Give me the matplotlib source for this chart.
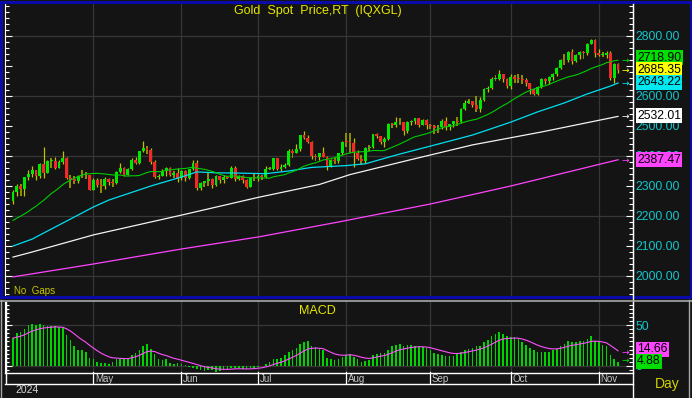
import matplotlib
matplotlib.use('Agg')
import matplotlib.pyplot as plt
import matplotlib.ticker as mticker
import matplotlib.transforms as mtrans
from matplotlib.lines import Line2D
from matplotlib.patches import Rectangle
import numpy as np
import pandas as pd

plt.rcParams['font.family'] = ['Liberation Sans', 'DejaVu Sans']

W, H = 692, 398
BG = '#141414'
GRID = '#363636'
AXCOL = '#12c6cc'

# trading days on the chart (Apr 2 .. Nov 8 2024)
dates = pd.bdate_range('2024-04-02', '2024-11-08')

# closes before the first candle, only needed for the 20-day average
prev_close = [2148, 2160, 2179, 2182, 2158, 2175, 2162, 2155, 2160, 2157,
              2186, 2181, 2165, 2172, 2178, 2194, 2230, 2233, 2250]

close_apr = [2280, 2300, 2291, 2329, 2339, 2352, 2333, 2373, 2344, 2383, 2383,
             2361, 2379, 2392, 2327, 2322, 2316, 2332, 2337, 2335, 2286]
high_apr = [2288, 2305, 2305, 2331, 2354, 2365, 2354, 2378, 2431, 2386, 2392,
            2395, 2385, 2418, 2395, 2335, 2334, 2338, 2352, 2348, 2337]
low_apr = [2240, 2268, 2268, 2268, 2320, 2329, 2319, 2325, 2326, 2342, 2359,
           2355, 2360, 2372, 2322, 2292, 2308, 2309, 2328, 2322, 2285]

close_may = [2320, 2303, 2301, 2324, 2314, 2309, 2346, 2360, 2336, 2358, 2386, 2376,
             2415, 2425, 2421, 2379, 2329, 2334, 2350, 2361, 2338, 2342, 2327]
high_may = [2326, 2326, 2323, 2331, 2326, 2323, 2351, 2378, 2362, 2361, 2392, 2396,
            2418, 2450, 2432, 2427, 2386, 2340, 2355, 2364, 2364, 2351, 2360]
low_may = [2285, 2295, 2277, 2291, 2303, 2297, 2305, 2343, 2332, 2335, 2354, 2373,
           2374, 2412, 2408, 2374, 2326, 2324, 2333, 2334, 2334, 2326, 2314]

close_jun = [2350, 2326, 2355, 2375, 2294, 2311, 2316, 2324, 2303, 2333,
             2319, 2329, 2328, 2360, 2322, 2334, 2319, 2298, 2327, 2326]
high_jun = [2354, 2352, 2358, 2388, 2387, 2313, 2318, 2342, 2327, 2336,
            2334, 2336, 2333, 2365, 2368, 2337, 2338, 2324, 2331, 2339]
low_jun = [2320, 2315, 2322, 2353, 2286, 2287, 2296, 2300, 2294, 2299,
           2310, 2309, 2323, 2327, 2316, 2320, 2309, 2293, 2296, 2318]

close_jul = [2332, 2330, 2356, 2357, 2392, 2358, 2364, 2371, 2415, 2411, 2422, 2469,
             2459, 2445, 2400, 2396, 2409, 2398, 2364, 2387, 2384, 2410, 2447]
high_jul = [2339, 2335, 2365, 2363, 2393, 2393, 2372, 2375, 2424, 2424, 2440, 2469,
            2484, 2470, 2449, 2408, 2411, 2431, 2399, 2390, 2393, 2411, 2451]
low_jul = [2318, 2319, 2327, 2352, 2353, 2353, 2351, 2359, 2366, 2392, 2410, 2416,
           2455, 2443, 2391, 2384, 2385, 2398, 2353, 2363, 2374, 2378, 2404]

close_aug = [2446, 2442, 2409, 2390, 2383, 2427, 2431, 2472, 2465, 2447, 2456,
             2507, 2504, 2514, 2512, 2484, 2512, 2517, 2525, 2504, 2521, 2503]
high_aug = [2477, 2477, 2461, 2420, 2402, 2429, 2438, 2474, 2475, 2468, 2463,
            2509, 2510, 2531, 2526, 2514, 2517, 2520, 2527, 2528, 2524, 2524]
low_aug = [2430, 2410, 2364, 2385, 2369, 2378, 2418, 2425, 2459, 2439, 2430,
           2454, 2492, 2496, 2502, 2470, 2477, 2504, 2508, 2495, 2502, 2491]

close_sep = [2500, 2493, 2495, 2516, 2497, 2506, 2516, 2512, 2557, 2578, 2582,
             2570, 2558, 2587, 2622, 2628, 2657, 2657, 2672, 2658, 2634]
high_sep = [2506, 2503, 2503, 2523, 2529, 2508, 2518, 2529, 2560, 2586, 2590,
            2584, 2600, 2595, 2626, 2634, 2664, 2670, 2685, 2674, 2659]
low_sep = [2489, 2472, 2476, 2489, 2486, 2486, 2496, 2500, 2510, 2554, 2572,
           2562, 2546, 2547, 2584, 2614, 2624, 2651, 2654, 2645, 2625]

close_oct = [2663, 2657, 2656, 2653, 2643, 2622, 2608, 2630, 2657, 2649, 2662, 2674,
             2693, 2721, 2719, 2748, 2715, 2736, 2747, 2743, 2774, 2788, 2744]
high_oct = [2673, 2670, 2672, 2670, 2661, 2644, 2627, 2634, 2661, 2659, 2665, 2676,
            2697, 2722, 2740, 2749, 2758, 2741, 2749, 2749, 2775, 2790, 2790]
low_oct = [2624, 2644, 2642, 2640, 2633, 2605, 2604, 2603, 2625, 2641, 2639, 2653,
           2668, 2691, 2704, 2714, 2708, 2713, 2724, 2722, 2735, 2772, 2730]

close_nov = [2736, 2736, 2743, 2659, 2707, 2685]
high_nov = [2758, 2746, 2750, 2749, 2711, 2710]
low_nov = [2733, 2731, 2726, 2652, 2643, 2678]

# moving averages (day index, value)
ma50_day = [0, 5, 21, 25, 36, 44, 48, 53, 59, 66, 72, 78, 87, 92, 100, 109,
            115, 120, 124, 130, 137, 144, 150, 156, 158]
ma50_val = [2100, 2123, 2230, 2253, 2300, 2330, 2347, 2344, 2343, 2341, 2350, 2362,
            2368, 2374, 2403, 2433, 2453, 2470, 2487, 2513, 2547, 2577, 2607, 2633, 2643.22]
ma100_day = [0, 5, 21, 44, 64, 80, 88, 103, 120, 138, 158]
ma100_val = [2063, 2080, 2137, 2203, 2262, 2305, 2338, 2385, 2437, 2480, 2532.01]
ma200_day = [0, 21, 44, 64, 85, 109, 130, 158]
ma200_val = [1997, 2040, 2090, 2130, 2180, 2240, 2300, 2387.47]

# MACD values (drawn as bars)
macd = [34, 40, 41, 45, 50, 51, 50, 51, 50, 49,
        49, 49, 47, 46, 38, 32, 25, 20, 19, 17,
        10, 9, 5, 4, 4, 3, 5, 8, 8, 8,
        9, 14, 16, 20, 24, 27, 21, 15, 8, 7,
        8, 4, 3, 4, 2, 1, -1, -2, -4, -5,
        -6, -5, -5, -7, -6, -5, -4, -3, -2, -3,
        -4, -4, -3, -2, -1, 0, 3, 5, 9, 9,
        10, 13, 17, 19, 22, 27, 29, 30, 25, 23,
        21, 19, 10, 8, 7, 9,
        11, 14, 15, 11, 8, 5, 6, 7, 13, 15,
        16, 16, 20, 24, 26, 27, 24, 26, 26, 25,
        25, 23, 22, 19, 16, 15, 13, 12, 12, 12,
        15, 17, 20, 21, 22, 24, 25, 29, 32, 36,
        39, 41, 39, 36, 35, 35, 33, 29, 26, 22,
        19, 17, 17, 17, 17, 19, 21, 25, 27, 30,
        29, 29, 30, 31, 33, 36, 31, 29, 26, 24,
        13, 9, 4.88]

month_names = ['May', 'Jun', 'Jul', 'Aug', 'Sep', 'Oct', 'Nov']

price_labels = ['2718.90', '2685.35', '2643.22', '2532.01', '2387.47']
price_values = [2718.90, 2685.35, 2643.22, 2532.01, 2387.47]
price_colors = ['#00dd00', '#ffff00', '#00e8f0', '#ffffff', '#ff44ff']
macd_labels = ['14.66', '4.88']
macd_values = [14.66, 4.88]
macd_colors = ['#ff44ff', '#00dd00']


def box(l, t, r, b):
    return [l / W, 1 - b / H, (r - l) / W, (b - t) / H]


def fig_line(fig, xs, ys, color, lw=1.0):
    fig.add_artist(Line2D([x / W for x in xs], [1 - y / H for y in ys],
                          color=color, lw=lw, transform=fig.transFigure))


def price_fmt(v, pos):
    # 2700 sits fully under the value boxes on the original
    return '' if abs(v - 2700) < 1 else '%.2f' % v


closes = close_apr + close_may + close_jun + close_jul + close_aug + close_sep + close_oct + close_nov
highs = high_apr + high_may + high_jun + high_jul + high_aug + high_sep + high_oct + high_nov
lows = low_apr + low_may + low_jun + low_jul + low_aug + low_sep + low_oct + low_nov
opens = prev_close[-1:] + closes[:-1]

days = np.arange(len(dates))
ma20 = pd.Series(prev_close + closes).rolling(20).mean().iloc[len(prev_close):].values
signal = pd.Series(macd).ewm(span=9, adjust=False).mean()
month_idx = [int(np.argmax(dates.month == m)) for m in range(5, 12)]

fig = plt.figure(figsize=(W / 100, H / 100), dpi=100, facecolor=BG)
ax = fig.add_axes(box(5, 4, 633, 296))
ax2 = fig.add_axes(box(5, 302, 633, 372))

xlim = (-(13 - 5) / 3.83, 158 + (633 - 618) / 3.83)
for a in (ax, ax2):
    a.set_facecolor(BG)
    a.set_xlim(*xlim)
    for m in month_idx:
        a.axvline(m, color=GRID, lw=0.9, zorder=0)
    a.tick_params(axis='x', bottom=False, labelbottom=False)
    a.tick_params(axis='y', which='both', direction='in', left=True, right=True,
                  labelleft=False, labelright=True, color='white', width=0.8,
                  labelcolor=AXCOL, labelsize=8.7, pad=2)
    a.tick_params(axis='y', which='major', length=5)
    a.tick_params(axis='y', which='minor', length=3)
    for s in ('top', 'bottom'):
        a.spines[s].set_visible(False)
    for s in ('left', 'right'):
        a.spines[s].set_color('white')
    a.yaxis.set_ticks_position('both')

# price panel
ax.set_ylim(2000 - 20 / 0.3, 2800 + 32 / 0.3)
ax.yaxis.set_major_locator(mticker.FixedLocator(range(2000, 2801, 100)))
ax.yaxis.set_minor_locator(mticker.MultipleLocator(20))
ax.yaxis.set_major_formatter(mticker.FuncFormatter(price_fmt))
for lvl in range(2000, 2801, 200):
    ax.axhline(lvl, color=GRID, lw=0.9, zorder=0)

for i in days:
    o, h, l, c = opens[i], highs[i], lows[i], closes[i]
    col = '#00e800' if c >= o else '#f42828'
    if abs(c - o) < 0.25 * (h - l):
        ax.bar(i, h - l, bottom=l, width=0.5, color='#8c8c00', zorder=2)
    else:
        ax.vlines(i, l, h, color='#c0c000', lw=0.9, zorder=2)
    ax.bar(i, max(abs(c - o), 2.5), bottom=min(o, c), width=0.75, color=col, zorder=2)

ax.plot(ma200_day, ma200_val, color='#ff44ff', lw=0.9, zorder=3)
ax.plot(ma100_day, ma100_val, color='#f2f2f2', lw=0.9, zorder=3)
ax.plot(ma50_day, ma50_val, color='#00e0f0', lw=0.9, zorder=3)
ax.plot(days, ma20, color='#00cc00', lw=0.8, zorder=3)

tr = mtrans.blended_transform_factory(ax.transAxes, ax.transData)
nudge = [9, 2, 2, 2, 0]
for lab, val, col, dy in zip(price_labels, price_values, price_colors, nudge):
    ax.text(0.988, val, '\u2192', color=col, fontsize=6.5, ha='center', va='center',
            transform=tr, family=['DejaVu Sans'], zorder=5)
    ax.text(1.0064, val + dy, lab, color='black', fontsize=8.7, ha='left', va='center',
            transform=tr, clip_on=False, zorder=6,
            bbox=dict(boxstyle='square,pad=0.12', fc=col, ec='none'))

# MACD panel
ax2.set_ylim(-6 / 0.82, 64 / 0.82)
ax2.yaxis.set_major_locator(mticker.FixedLocator([0, 50]))
ax2.yaxis.set_minor_locator(mticker.MultipleLocator(5))
ax2.yaxis.set_major_formatter(mticker.FormatStrFormatter('%d'))
ax2.axhline(50, color=GRID, lw=0.9, zorder=0)
ax2.axhline(0, color=GRID, lw=0.9, zorder=0)
ax2.bar(days, macd, width=0.42, color='#00d400', zorder=2)
ax2.plot(days, signal, color='#ff50ff', lw=0.8, zorder=3)

tr2 = mtrans.blended_transform_factory(ax2.transAxes, ax2.transData)
nudge2 = [6, 1]
for lab, val, col, dy in zip(macd_labels, macd_values, macd_colors, nudge2):
    ax2.text(0.988, val + 2, '\u2192', color=col, fontsize=6.5, ha='center', va='center',
             transform=tr2, family=['DejaVu Sans'], zorder=5)
    ax2.text(1.0064, val + dy, lab, color='black', fontsize=8.7, ha='left', va='center',
             transform=tr2, clip_on=False, zorder=6,
             bbox=dict(boxstyle='square,pad=0.12', fc=col, ec='none'))

# date strip under the MACD panel
fig_line(fig, [5, 633], [372.5, 372.5], 'white')
fig_line(fig, [5, 633], [383.5, 383.5], 'white')
fig_line(fig, [5.5, 5.5], [302, 383], 'white')
trd = mtrans.blended_transform_factory(ax2.transData, fig.transFigure)
for m, name in zip(month_idx, month_names):
    ax2.plot([m, m], [1 - 372 / H, 1 - 383 / H], color='white', lw=0.9,
             transform=trd, clip_on=False)
    ax2.text(m + 0.4, 1 - 379 / H, name, color='#c8c8c8', fontsize=7,
             ha='left', va='center', transform=trd)

# frames
fig_line(fig, [633, 633], [4, 398], 'white')
fig_line(fig, [0, 692], [300.5, 300.5], '#a8a8a8', lw=1.2)
fig_line(fig, [688.5, 688.5], [300, 398], '#a8a8a8')
fig_line(fig, [1, 1], [300, 398], '#a8a8a8')
fig.add_artist(Rectangle((1.5 / W, 1 - 296.5 / H), 689 / W, 295 / H, fill=False,
                         ec='#0a0aa8', lw=2.2, transform=fig.transFigure))

# texts
fig.text(318 / W, 1 - 11 / H, 'Gold  Spot  Price,RT  (IQXGL)', color='#e6e600',
         fontsize=9, ha='center', va='center')
fig.text(14 / W, 1 - 291 / H, 'No  Gaps', color='#c8c800', fontsize=7, va='center')
fig.text(317 / W, 1 - 311 / H, 'MACD', color='#e6e600', fontsize=9, ha='center', va='center')
fig.text(15 / W, 1 - 390 / H, '2024', color='#d8d8d8', fontsize=7.5, va='center')
fig.text(667 / W, 1 - 384 / H, 'Day', color='#d2d200', fontsize=10, ha='center', va='center')

fig.savefig('out.png', dpi=100, facecolor=BG)
